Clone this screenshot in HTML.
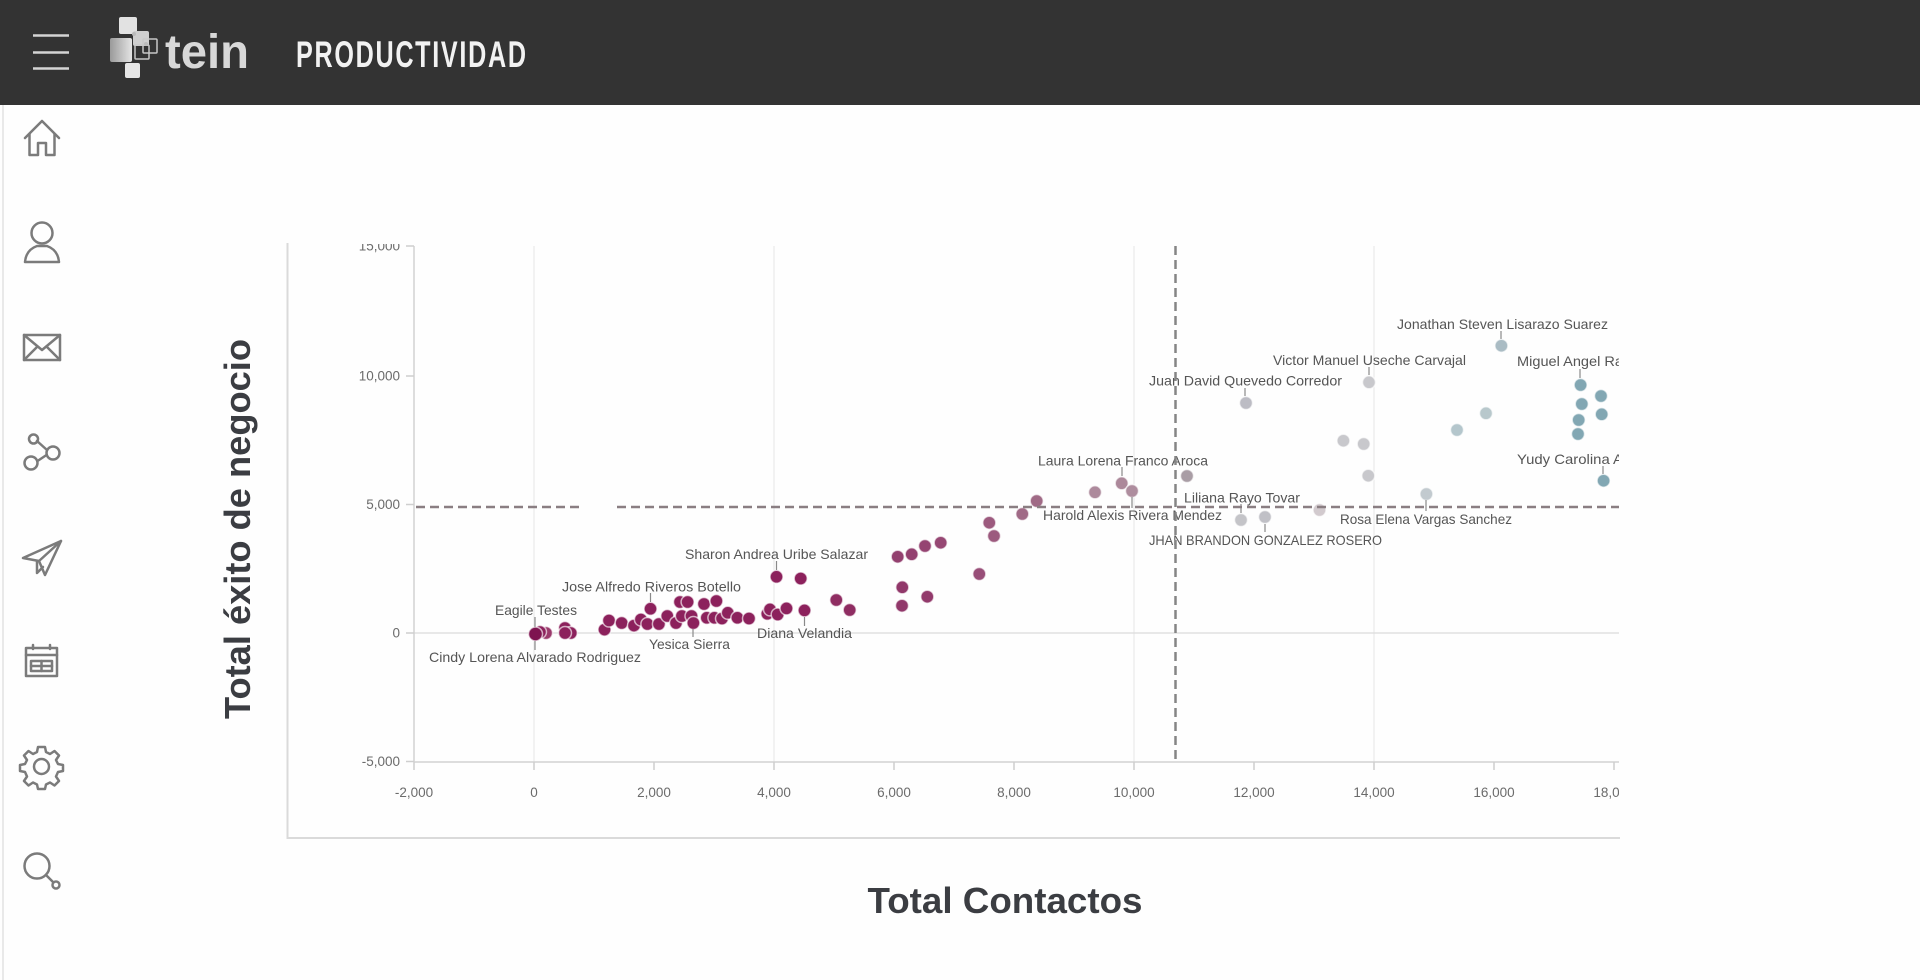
<!DOCTYPE html>
<html>
<head>
<meta charset="utf-8">
<style>
  html, body { margin: 0; padding: 0; background: #fefefe; }
  body { width: 1920px; height: 980px; overflow: hidden; }
  svg { display: block; }
</style>
</head>
<body>
<svg width="1920" height="980" viewBox="0 0 1920 980" xmlns="http://www.w3.org/2000/svg" font-family="'Liberation Sans', sans-serif">
  <defs>
    <clipPath id="chartclip"><rect x="288" y="244" width="1331" height="600"/></clipPath>
    <linearGradient id="lg1" x1="0" y1="0" x2="1" y2="0">
      <stop offset="0" stop-color="#9a9a9a"/>
      <stop offset="1" stop-color="#e4e4e4"/>
    </linearGradient>
  </defs>

  <!-- page background -->
  <rect x="0" y="0" width="1920" height="980" fill="#fefefe"/>

  <!-- header -->
  <rect x="0" y="0" width="1920" height="105" fill="#333333"/>
  <!-- hamburger -->
  <g stroke="#d4d4d4" stroke-width="2.5" stroke-linecap="butt">
    <line x1="33" y1="35.5" x2="69" y2="35.5"/>
    <line x1="33" y1="52.5" x2="69" y2="52.5"/>
    <line x1="33" y1="68.5" x2="69" y2="68.5"/>
  </g>
  <!-- logo squares -->
  <g>
    <rect x="119" y="17" width="18" height="17" rx="2" fill="#e2e2e2"/>
    <rect x="133" y="31" width="16" height="15" rx="2" fill="#cfcfcf"/>
    <rect x="110" y="38" width="22" height="24" rx="2" fill="url(#lg1)"/>
    <rect x="135" y="45" width="14" height="14" rx="1" fill="none" stroke="#c8c8c8" stroke-width="1.5"/>
    <rect x="143" y="39" width="14" height="14" rx="1" fill="none" stroke="#c8c8c8" stroke-width="1.5"/>
    <rect x="125" y="63" width="15" height="15" rx="2" fill="#e6e6e6"/>
    <circle cx="134" cy="34" r="2" fill="#bbbbbb"/>
    <circle cx="146" cy="44" r="2" fill="#bbbbbb"/>
  </g>
  <text x="165" y="68" font-size="48" font-weight="bold" fill="#d8d8d8" textLength="84" lengthAdjust="spacingAndGlyphs">tein</text>
  <text transform="translate(296,67) scale(0.68,1)" x="0" y="0" font-size="37" font-weight="bold" fill="#f2f2f2" letter-spacing="2.5">PRODUCTIVIDAD</text>

  <!-- sidebar border -->
  <line x1="3" y1="105" x2="3" y2="980" stroke="#e2e2e2" stroke-width="1.5"/>

  <!-- sidebar icons -->
  <g fill="none" stroke="#7b7b7b" stroke-width="2.5" stroke-linejoin="round" stroke-linecap="round">
    <!-- home -->
    <path d="M25 138 L42 121 L59 138"/>
    <path d="M29.5 134 V155 H38 V143 H46 V155 H54.5 V134"/>
    <!-- user -->
    <circle cx="42" cy="233" r="10.5"/>
    <path d="M25 262 Q26 250 37 246 L47 246 Q58 250 59 262 Z"/>
    <!-- mail -->
    <rect x="24" y="335" width="36" height="25"/>
    <path d="M24 335 L42 350 L60 335"/>
    <path d="M24 360 L37 347 M60 360 L47 347"/>
    <!-- share -->
    <circle cx="33.5" cy="439" r="4.5"/>
    <circle cx="31" cy="463" r="6.5"/>
    <circle cx="53" cy="453" r="6.5"/>
    <path d="M37 441 L47 450 M37.5 461 L46.5 455"/>
    <!-- send -->
    <path d="M23 558 L61 541 L45 575 L39 561 Z"/>
    <path d="M39 561 L61 541"/>
    <path d="M37 561 L37 573 L43 567"/>
    <!-- calendar -->
    <rect x="26" y="648" width="31" height="28"/>
    <line x1="26" y1="655" x2="57" y2="655"/>
    <rect x="31" y="661" width="21" height="10"/>
    <line x1="31" y1="666" x2="52" y2="666"/>
    <line x1="41.5" y1="661" x2="41.5" y2="671"/>
    <line x1="33" y1="645" x2="33" y2="649"/>
    <line x1="50" y1="645" x2="50" y2="649"/>
    <!-- gear -->
    <circle cx="41.5" cy="766.5" r="7.5"/>
    <path d="M38 747 L45 747 L46 752 L50 754 L54.5 751 L59 755.5 L56 760 L58 764 L63 765 L63 771 L58 772 L56 776.5 L59 781 L54.5 785.5 L50 782.5 L46 784.5 L45 789 L38 789 L37 784.5 L33 782.5 L28.5 785.5 L24 781 L27 776.5 L25 772 L20 771 L20 765 L25 764 L27 760 L24 755.5 L28.5 751 L33 754 L37 752 Z"/>
    <!-- search -->
    <circle cx="37" cy="866" r="12.5"/>
    <line x1="46" y1="875" x2="53" y2="882"/>
    <circle cx="56" cy="885" r="3.5"/>
  </g>

  <!-- chart container borders -->
  <line x1="287.5" y1="243" x2="287.5" y2="839" stroke="#dadada" stroke-width="2"/>
  <line x1="287" y1="838" x2="1620" y2="838" stroke="#dadada" stroke-width="2"/>

  <g clip-path="url(#chartclip)">
    <!-- vertical gridlines -->
    <g stroke="#e6e6e6" stroke-width="1">
      <line x1="534" y1="246" x2="534" y2="762"/>
      <line x1="774" y1="246" x2="774" y2="762"/>
      <line x1="1134" y1="246" x2="1134" y2="762"/>
      <line x1="1374" y1="246" x2="1374" y2="762"/>
    </g>
    <!-- zero line -->
    <line x1="414" y1="633" x2="1620" y2="633" stroke="#e0e0e0" stroke-width="1.5"/>

    <!-- axes -->
    <line x1="414" y1="246" x2="414" y2="762" stroke="#d2d2d2" stroke-width="1.5"/>
    <line x1="414" y1="762" x2="1620" y2="762" stroke="#d2d2d2" stroke-width="1.5"/>
    <!-- y ticks -->
    <g stroke="#cfcfcf" stroke-width="1.5">
      <line x1="406" y1="246" x2="414" y2="246"/>
      <line x1="406" y1="376" x2="414" y2="376"/>
      <line x1="406" y1="504.5" x2="414" y2="504.5"/>
      <line x1="406" y1="633" x2="414" y2="633"/>
      <line x1="406" y1="761.5" x2="414" y2="761.5"/>
    </g>
    <!-- x ticks -->
    <g stroke="#cfcfcf" stroke-width="1.5">
      <line x1="414" y1="762" x2="414" y2="770"/>
      <line x1="534" y1="762" x2="534" y2="770"/>
      <line x1="654" y1="762" x2="654" y2="770"/>
      <line x1="774" y1="762" x2="774" y2="770"/>
      <line x1="894" y1="762" x2="894" y2="770"/>
      <line x1="1014" y1="762" x2="1014" y2="770"/>
      <line x1="1134" y1="762" x2="1134" y2="770"/>
      <line x1="1254" y1="762" x2="1254" y2="770"/>
      <line x1="1374" y1="762" x2="1374" y2="770"/>
      <line x1="1494" y1="762" x2="1494" y2="770"/>
      <line x1="1614" y1="762" x2="1614" y2="770"/>
    </g>
    <!-- y tick labels -->
    <g font-size="13.5" fill="#6b6b6b" text-anchor="end">
      <text x="400" y="250.5">15,000</text>
      <text x="400" y="380.5">10,000</text>
      <text x="400" y="509">5,000</text>
      <text x="400" y="637.5">0</text>
      <text x="400" y="766">-5,000</text>
    </g>
    <!-- x tick labels -->
    <g font-size="13.5" fill="#6b6b6b" text-anchor="middle">
      <text x="414" y="797">-2,000</text>
      <text x="534" y="797">0</text>
      <text x="654" y="797">2,000</text>
      <text x="774" y="797">4,000</text>
      <text x="894" y="797">6,000</text>
      <text x="1014" y="797">8,000</text>
      <text x="1134" y="797">10,000</text>
      <text x="1254" y="797">12,000</text>
      <text x="1374" y="797">14,000</text>
      <text x="1494" y="797">16,000</text>
      <text x="1614" y="797">18,000</text>
    </g>

    <!-- points -->
    <g stroke="#ffffff" stroke-opacity="0.65" stroke-width="1.5">
      <g fill="#8c215c">
        <circle cx="546" cy="633" r="6.5" fill="#9a3a6c"/>
        <circle cx="540" cy="632" r="6.5"/>
        <circle cx="565" cy="628" r="6.5"/>
        <circle cx="570.8" cy="633" r="6.5"/>
        <circle cx="565" cy="633" r="6.5"/>
        <circle cx="535.5" cy="634" r="7" fill="#7e1450"/>
        <circle cx="604.5" cy="629.6" r="6.5"/>
        <circle cx="609" cy="620.5" r="6.5"/>
        <circle cx="621.7" cy="623" r="6.5"/>
        <circle cx="634" cy="625.6" r="6.5"/>
        <circle cx="640.9" cy="619.5" r="6.5"/>
        <circle cx="647.4" cy="624" r="6.5"/>
        <circle cx="650.5" cy="608.8" r="6.5"/>
        <circle cx="658.9" cy="624" r="6.5"/>
        <circle cx="667.3" cy="616" r="6.5"/>
        <circle cx="676" cy="623" r="6.5"/>
        <circle cx="681.9" cy="616" r="6.5"/>
        <circle cx="680" cy="602" r="6.5"/>
        <circle cx="687.6" cy="602" r="6.5"/>
        <circle cx="691.5" cy="616" r="6.5"/>
        <circle cx="693.4" cy="623" r="6.5"/>
        <circle cx="704" cy="604" r="6.5"/>
        <circle cx="706.8" cy="617.8" r="6.5"/>
        <circle cx="716.4" cy="601" r="6.5"/>
        <circle cx="714.4" cy="617.8" r="6.5"/>
        <circle cx="722" cy="618.5" r="6.5"/>
        <circle cx="727.8" cy="612.8" r="6.5"/>
        <circle cx="737.4" cy="617.8" r="6.5"/>
        <circle cx="749" cy="618.5" r="6.5"/>
        <circle cx="767.3" cy="613.8" r="6.5"/>
        <circle cx="770" cy="609.4" r="6.5"/>
        <circle cx="777.7" cy="614.5" r="6.5"/>
        <circle cx="776.5" cy="576.8" r="6.5"/>
        <circle cx="786.5" cy="608.4" r="6.5"/>
        <circle cx="800.7" cy="578.5" r="6.5"/>
        <circle cx="804.5" cy="610.4" r="6.5"/>
        <circle cx="836.3" cy="600" r="6.5" fill="#8f2d62"/>
        <circle cx="849.7" cy="610" r="6.5" fill="#8f2d62"/>
      </g>
      <circle cx="897.7" cy="556.7" r="6.5" fill="#93406f"/>
      <circle cx="911.7" cy="554.3" r="6.5" fill="#93406f"/>
      <circle cx="925" cy="546" r="6.5" fill="#954472"/>
      <circle cx="940.7" cy="542.7" r="6.5" fill="#964773"/>
      <circle cx="902.3" cy="587.3" r="6.5" fill="#91386a"/>
      <circle cx="902" cy="605.7" r="6.5" fill="#91386a"/>
      <circle cx="927.3" cy="596.7" r="6.5" fill="#923a6b"/>
      <circle cx="979.3" cy="574" r="6.5" fill="#984e78"/>
      <circle cx="989.3" cy="522.7" r="6.5" fill="#9c5a7e"/>
      <circle cx="994" cy="536" r="6.5" fill="#9c5a7e"/>
      <circle cx="1022.3" cy="514" r="6.5" fill="#a06a86"/>
      <circle cx="1036.7" cy="501" r="6.5" fill="#a06a86"/>
      <circle cx="1095" cy="492.3" r="6.5" fill="#ad8a9c"/>
      <circle cx="1121.7" cy="483.3" r="6.5" fill="#ac889a"/>
      <circle cx="1132" cy="491" r="6.5" fill="#ae8d9e"/>
      <circle cx="1187" cy="476" r="6.5" fill="#a99da5"/>
      <circle cx="1241" cy="520" r="6.5" fill="#c4c4c8"/>
      <circle cx="1265" cy="517" r="6.5" fill="#c0c0c6"/>
      <circle cx="1246" cy="403" r="6.5" fill="#bcbcc4"/>
      <circle cx="1319.5" cy="510" r="6.5" fill="#d2cace"/>
      <circle cx="1343.4" cy="440.7" r="6.5" fill="#c8c8cc"/>
      <circle cx="1363.7" cy="444" r="6.5" fill="#c8c8cc"/>
      <circle cx="1369" cy="382.3" r="6.5" fill="#c8c8cc"/>
      <circle cx="1368.3" cy="475.7" r="6.5" fill="#c8c8cc"/>
      <circle cx="1426.4" cy="494" r="6.5" fill="#c2cacf"/>
      <circle cx="1457" cy="430" r="6.5" fill="#b4c6cc"/>
      <circle cx="1486" cy="413.3" r="6.5" fill="#b8c8cc"/>
      <circle cx="1501.4" cy="345.7" r="6.5" fill="#aabcc4"/>
      <g fill="#82a7b3">
        <circle cx="1580.6" cy="385" r="6.5"/>
        <circle cx="1581.8" cy="404" r="6.5"/>
        <circle cx="1601" cy="396" r="6.5"/>
        <circle cx="1601.7" cy="414.3" r="6.5"/>
        <circle cx="1578.7" cy="420" r="6.5"/>
        <circle cx="1578" cy="434" r="6.5"/>
        <circle cx="1603.6" cy="480.7" r="6.5"/>
      </g>
    </g>

    <!-- leader lines -->
    <g stroke="#8a8a8a" stroke-width="1.2">
      <line x1="1501" y1="331" x2="1501" y2="339"/>
      <line x1="1369" y1="367" x2="1369" y2="375"/>
      <line x1="1580" y1="369" x2="1580" y2="378"/>
      <line x1="1245" y1="388" x2="1245" y2="396"/>
      <line x1="1122" y1="467" x2="1122" y2="476"/>
      <line x1="1603" y1="466" x2="1603" y2="474"/>
      <line x1="1241" y1="504" x2="1241" y2="513"/>
      <line x1="1132" y1="497" x2="1132" y2="508"/>
      <line x1="1426" y1="500" x2="1426" y2="511"/>
      <line x1="1265" y1="524" x2="1265" y2="532"/>
      <line x1="776.5" y1="561" x2="776.5" y2="570"/>
      <line x1="650.5" y1="593" x2="650.5" y2="602"/>
      <line x1="535" y1="617" x2="535" y2="627"/>
      <line x1="804.5" y1="617" x2="804.5" y2="626"/>
      <line x1="693" y1="629" x2="693" y2="637"/>
      <line x1="535" y1="641" x2="535" y2="650"/>
    </g>

    <!-- point labels -->
    <g font-size="14" fill="#555555">
      <text x="1397" y="329" textLength="211" lengthAdjust="spacingAndGlyphs">Jonathan Steven Lisarazo Suarez</text>
      <text x="1273" y="365" textLength="193" lengthAdjust="spacingAndGlyphs">Victor Manuel Useche Carvajal</text>
      <text x="1517" y="366" textLength="106" lengthAdjust="spacingAndGlyphs">Miguel Angel Ra</text>
      <text x="1149" y="385.5" textLength="193" lengthAdjust="spacingAndGlyphs">Juan David Quevedo Corredor</text>
      <text x="1038" y="465.5" textLength="170" lengthAdjust="spacingAndGlyphs">Laura Lorena Franco Aroca</text>
      <text x="1517" y="464" textLength="106" lengthAdjust="spacingAndGlyphs">Yudy Carolina A</text>
      <text x="1184" y="502.5" textLength="116" lengthAdjust="spacingAndGlyphs">Liliana Rayo Tovar</text>
      <text x="1043" y="520" textLength="179" lengthAdjust="spacingAndGlyphs">Harold Alexis Rivera Mendez</text>
      <text x="1340" y="524" textLength="172" lengthAdjust="spacingAndGlyphs">Rosa Elena Vargas Sanchez</text>
      <text x="1149" y="545" textLength="233" lengthAdjust="spacingAndGlyphs">JHAN BRANDON GONZALEZ ROSERO</text>
      <text x="685" y="559" textLength="183" lengthAdjust="spacingAndGlyphs">Sharon Andrea Uribe Salazar</text>
      <text x="562" y="591.5" textLength="179" lengthAdjust="spacingAndGlyphs">Jose Alfredo Riveros Botello</text>
      <text x="495" y="615" textLength="82" lengthAdjust="spacingAndGlyphs">Eagile Testes</text>
      <text x="757" y="638" textLength="95" lengthAdjust="spacingAndGlyphs">Diana Velandia</text>
      <text x="649" y="649" textLength="81" lengthAdjust="spacingAndGlyphs">Yesica Sierra</text>
      <text x="429" y="662" textLength="212" lengthAdjust="spacingAndGlyphs">Cindy Lorena Alvarado Rodriguez</text>
    </g>

    <!-- reference dashed lines -->
    <g stroke="#8a7e82" stroke-width="2.5" stroke-dasharray="9 5" fill="none">
      <line x1="416" y1="507" x2="580" y2="507"/>
      <line x1="617" y1="507" x2="1620" y2="507"/>
    </g>
    <line x1="1175.5" y1="246" x2="1175.5" y2="762" stroke="#858585" stroke-width="2.5" stroke-dasharray="9 5"/>
  </g>

  <!-- axis titles -->
  <text x="1005" y="913" font-size="36" font-weight="bold" fill="#3b3d42" text-anchor="middle" textLength="275" lengthAdjust="spacingAndGlyphs">Total Contactos</text>
  <text transform="translate(250,529) rotate(-90)" x="0" y="0" font-size="36" font-weight="bold" fill="#3b3d42" text-anchor="middle" textLength="380" lengthAdjust="spacingAndGlyphs">Total éxito de negocio</text>
</svg>
</body>
</html>
